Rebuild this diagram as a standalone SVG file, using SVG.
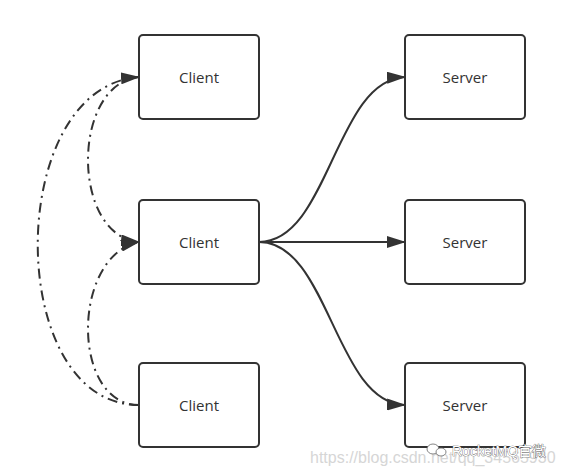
<svg xmlns="http://www.w3.org/2000/svg" width="562" height="475" viewBox="0 0 562 475">
<style>
.box{fill:#fff;stroke:#333;stroke-width:2}
.lbl{font-family:"Open Sans","Liberation Sans",sans-serif;font-size:15px;fill:#333;text-anchor:middle}
.solid{fill:none;stroke:#333;stroke-width:2}
.dd{fill:none;stroke:#333;stroke-width:2;stroke-dasharray:10 5 2 5}
.wm{font-family:"Liberation Sans",Arial,sans-serif;font-size:16px;fill:#d6d6d6}
.wm2{font-family:"Liberation Sans","Noto Sans CJK SC",sans-serif;font-size:14px;fill:#fff;stroke:#555;stroke-width:0.7;paint-order:stroke}
</style>
<defs>
<marker id="arr" markerUnits="userSpaceOnUse" viewBox="0 0 19 12" refX="18" refY="6" markerWidth="19" markerHeight="12" orient="auto">
<path d="M0,0 L19,6 L0,12 z" fill="#333"/>
</marker>
</defs>
<rect width="562" height="475" fill="#fff"/>
<g id="connectors">
<path class="dd" d="M139,405 C4,405 4,87 139,77" marker-end="url(#arr)"/>
<path class="dd" d="M139,77 C71,84 71,236 139,242" marker-end="url(#arr)"/>
<path class="dd" d="M139,405 C71,405 71,256 139,242" marker-end="url(#arr)"/>
<path class="solid" d="M259,242 C329,242 335,80 405,77" marker-end="url(#arr)"/>
<path class="solid" d="M259,242 L405,242" marker-end="url(#arr)"/>
<path class="solid" d="M259,242 C329,242 335,403 405,405" marker-end="url(#arr)"/>
</g>
<g id="client1"><rect class="box" x="139" y="35" width="120" height="84" rx="4"/><text class="lbl" x="199" y="82.5">Client</text></g>
<g id="client2"><rect class="box" x="139" y="200" width="120" height="84" rx="4"/><text class="lbl" x="199" y="247.5">Client</text></g>
<g id="client3"><rect class="box" x="139" y="363" width="120" height="84" rx="4"/><text class="lbl" x="199" y="410.5">Client</text></g>
<g id="server1"><rect class="box" x="405" y="35" width="120" height="84" rx="4"/><text class="lbl" x="465" y="82.5">Server</text></g>
<g id="server2"><rect class="box" x="405" y="200" width="120" height="84" rx="4"/><text class="lbl" x="465" y="247.5">Server</text></g>
<g id="server3"><rect class="box" x="405" y="363" width="120" height="84" rx="4"/><text class="lbl" x="465" y="410.5">Server</text></g>
<g id="watermark">
<text class="wm" x="310" y="463">https://blog.csdn.net/qq_34565930</text>
<ellipse cx="433" cy="449" rx="6" ry="5" fill="#fff" stroke="#666" stroke-width="0.8"/>
<ellipse cx="441" cy="452" rx="5" ry="4" fill="#fff" stroke="#666" stroke-width="0.8"/>
<text class="wm2" x="452" y="456">RocketMQ官微</text>
</g>
</svg>
